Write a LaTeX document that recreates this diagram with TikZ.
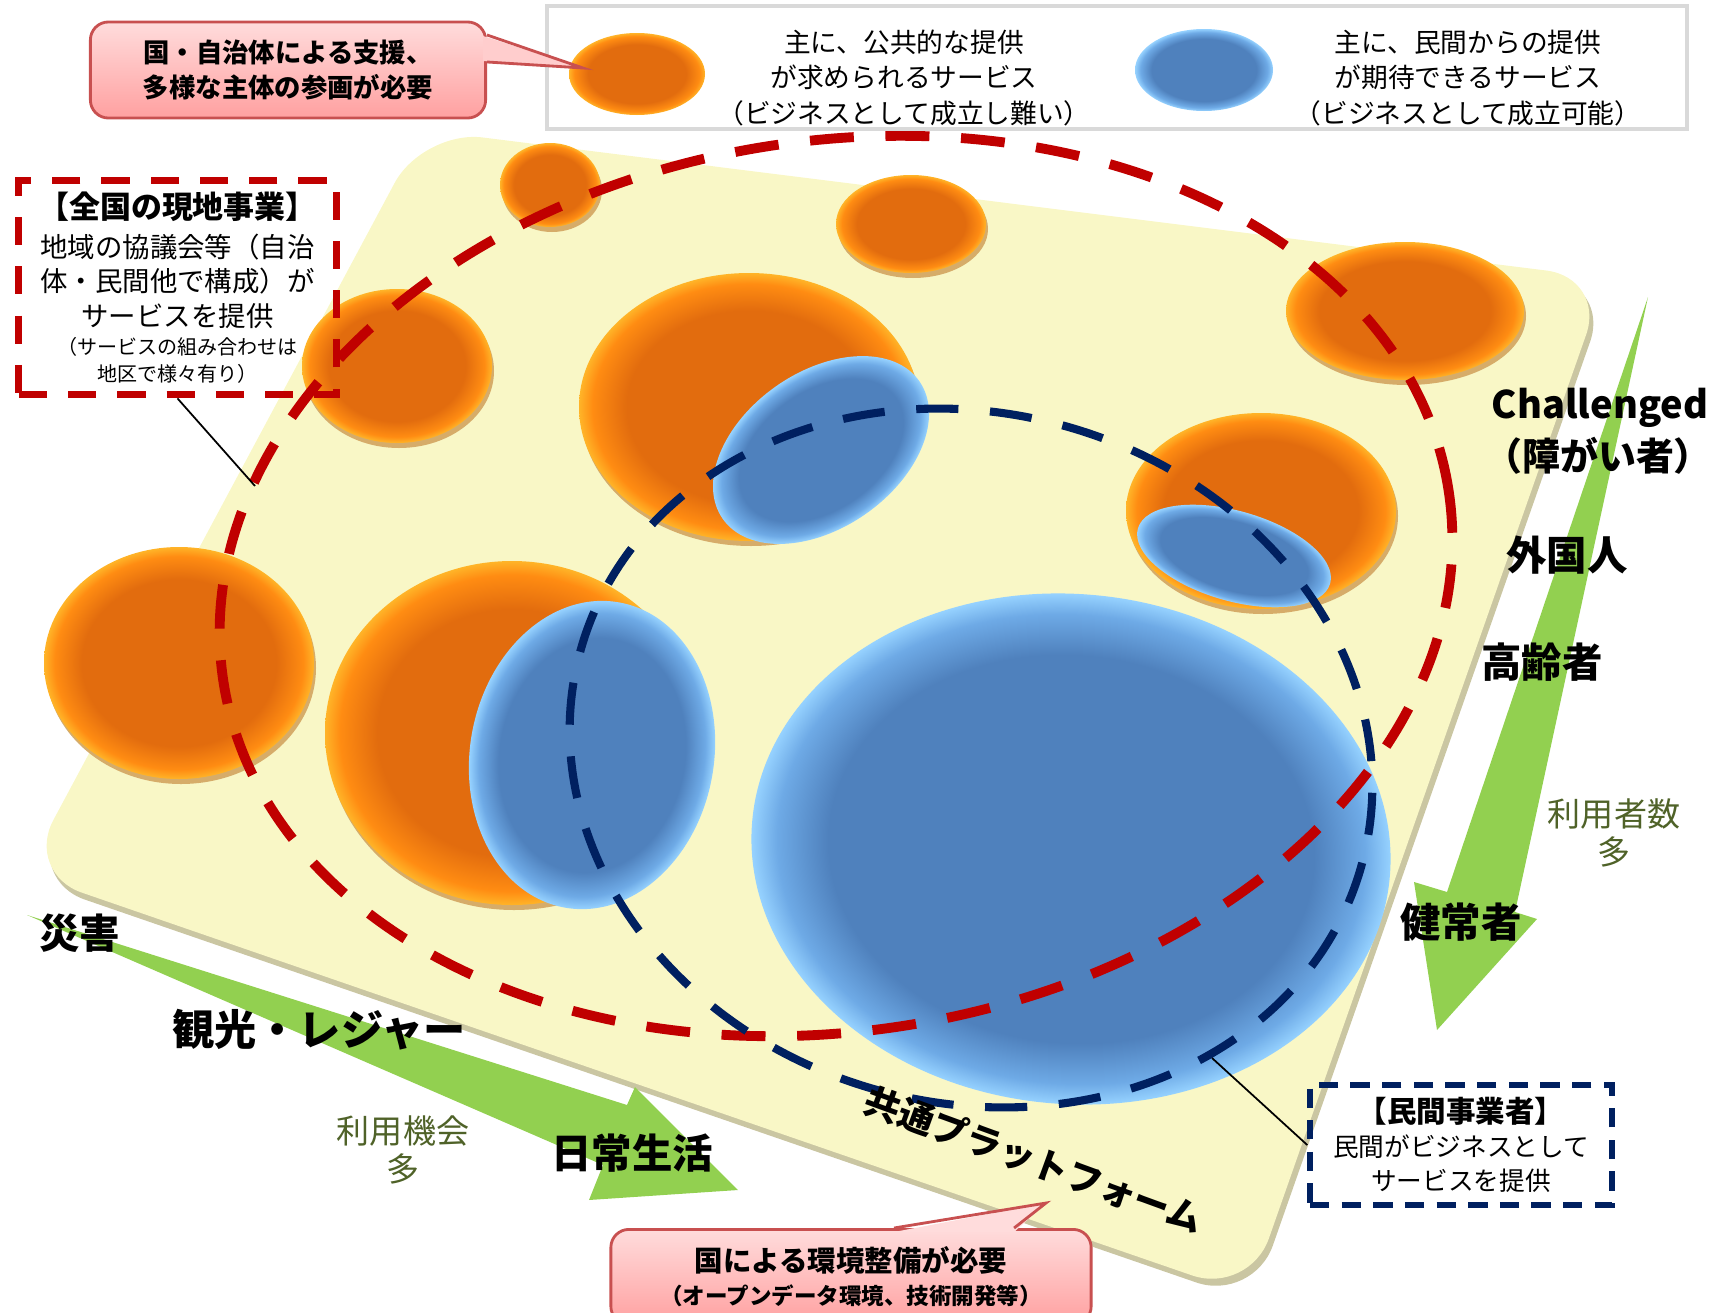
\documentclass[tikz,border=0pt]{standalone}
\usepackage{fontspec}
\setmainfont{Noto Sans CJK JP}
\usetikzlibrary{positioning}

\definecolor{orangedeep}{RGB}{226,108,14}
\definecolor{orangelight}{RGB}{255,140,18}
\definecolor{orangerim}{RGB}{255,180,40}
\definecolor{orbshadow}{RGB}{214,172,105}
\definecolor{bluedeep}{RGB}{79,129,189}
\definecolor{bluelight}{RGB}{110,170,230}
\definecolor{bluerim}{RGB}{150,210,255}
\definecolor{platefill}{RGB}{249,247,198}
\definecolor{plateshadow}{RGB}{202,198,162}
\definecolor{arrowgreen}{RGB}{146,208,80}
\definecolor{redline}{RGB}{192,0,0}
\definecolor{navyline}{RGB}{0,32,96}
\definecolor{olivetext}{RGB}{79,98,40}
\definecolor{calloutTop}{RGB}{255,220,220}
\definecolor{calloutBottom}{RGB}{255,160,160}
\definecolor{calloutEdge}{RGB}{200,80,80}
\definecolor{legendgray}{RGB}{217,217,217}

\pgfdeclareradialshading{orangeorb}{\pgfpoint{0bp}{0bp}}{%
  color(0bp)=(orangedeep); color(18bp)=(orangedeep); color(23bp)=(orangelight); color(25bp)=(orangerim); color(50bp)=(orangerim)}
\pgfdeclareradialshading{blueorb}{\pgfpoint{0bp}{0bp}}{%
  color(0bp)=(bluedeep); color(19bp)=(bluedeep); color(23bp)=(bluelight); color(25bp)=(bluerim); color(50bp)=(bluerim)}

\newcommand{\jfs}[2]{\fontsize{#1}{#2}\selectfont}

\begin{document}
\begin{tikzpicture}[x=0.01cm, y=-0.01cm,
    aidcallout/.style={draw=calloutEdge, line width=0.8pt, rounded corners=0.18cm,
        top color=calloutTop, bottom color=calloutBottom, align=center},
    areabox/.style={draw=redline, line width=2pt, dash pattern=on 8pt off 6pt,
        minimum width=3.17cm, minimum height=2.07cm, align=center, font=\jfs{7.8}{9.8}},
    privatebox/.style={draw=navyline, line width=1.5pt, dash pattern=on 5.5pt off 3.5pt,
        minimum width=3.02cm, minimum height=1.2cm, align=center, font=\jfs{7.3}{9.7}},
    legendbox/.style={draw=legendgray, line width=1.2pt, fill=white,
        minimum width=11.4cm, minimum height=1.23cm},
    legendtext/.style={align=center, font=\jfs{7.6}{10}},
    bigword/.style={font=\bfseries\jfs{11.5}{13}},
    countlabel/.style={align=center, text=olivetext, font=\jfs{9.4}{10.8}},
    reddash/.style={draw=redline, line width=2.8pt, dash pattern=on 12.5pt off 9pt},
    navydash/.style={draw=navyline, line width=2.3pt, dash pattern=on 12pt off 9pt},
    hookline/.style={draw=black, line width=0.5pt}]

    \useasboundingbox (0,0) rectangle (1715,1312);
    \clip (0,0) rectangle (1715,1312);

    % platform
    \fill[plateshadow, rounded corners=0.6cm] (427,137) -- (1610,285) -- (1253,1302) -- (28,880) -- cycle;
    \fill[platefill, rounded corners=0.6cm] (423,130) -- (1606,278) -- (1249,1295) -- (25,873) -- cycle;

    % public services
    \foreach \cx/\cy/\rx/\ry in {550/185/50/42, 911/224/75/49, 1405/311/119/69, 397/366/95/77,
        749/407/170/134, 1261/511/135/98, 179/663/135/116, 512/733/187/172} {
        \fill[orbshadow] (\cx+2,\cy+5) ellipse ({\rx} and {\ry});
        \shade[shading=orangeorb] (\cx,\cy) ellipse ({\rx} and {\ry});
    }

    % private services
    \foreach \cx/\cy/\rx/\ry/\tilt in {821/450/120/78/35, 592/755/122/155/-10,
        1234/556/100/45/-16, 1071/849/320/255/-5} {
        \begin{scope}[transform canvas={shift={(\cx,\cy)}, rotate=\tilt}]
            \shade[shading=blueorb] (0,0) ellipse ({\rx} and {\ry});
        \end{scope}
    }

    % local projects and private operators
    \draw[reddash, rotate around={9:(836,586)}] (836,586) ellipse (620 and 445);
    \draw[navydash, rotate around={-15:(971,758)}] (971,758) ellipse (405 and 345);

    % green arrows
    \fill[arrowgreen] (1648,297) -- (1515,912) -- (1537,919) -- (1437,1030) -- (1414,882) -- (1447,892) -- cycle;
    \fill[arrowgreen] (27,915) -- (627,1105) -- (635,1087) -- (738,1190) -- (589,1200) -- (603,1165) -- cycle;

    \node[rotate=-20, font=\bfseries\jfs{10.2}{12}] (platformlabel) at (1034,1160) {共通プラットフォーム};

    % users
    \node[font=\bfseries\jfs{10.8}{13}] (challenged) at (1600,408) {Challenged};
    \node[font=\bfseries\jfs{10.8}{13}, inner sep=0.5pt] (handicap) at (1598,456) {（障がい者）};
    \node[bigword] (foreigner) at (1567,555) {外国人};
    \node[bigword] (elderly) at (1542,662) {高齢者};
    \node[bigword] (ablebodied) at (1461,922) {健常者};
    \node[countlabel] (usercount) at (1614,833) {利用者数\\多};

    % occasions
    \node[bigword] (disaster) at (80,933) {災害};
    \node[font=\bfseries\jfs{12}{14}] (leisure) at (319,1030) {観光・レジャー};
    \node[bigword] (daily) at (632,1153) {日常生活};
    \node[countlabel] (usechance) at (403,1150) {利用機会\\多};

    % legend
    \node[legendbox] (legend) at (1117,67.5) {};
    \shade[shading=orangeorb] (637,74) ellipse (68 and 41);
    \shade[shading=blueorb] (1204,70) ellipse (69 and 41);
    \node[legendtext] (publictext) at (904,78) {主に、公共的な提供\\が求められるサービス\\（ビジネスとして成立し難い）};
    \node[legendtext] (privatetext) at (1468,78) {主に、民間からの提供\\が期待できるサービス\\（ビジネスとして成立可能）};

    % callouts
    \node[aidcallout, minimum width=3.95cm, minimum height=0.96cm, font=\bfseries\jfs{7.5}{9.7}] (aidbox) at (288,70)
        {国・自治体による支援、\\多様な主体の参画が必要};
    \coordinate (aidtip) at (583,68);
    \fill[calloutTop!75!calloutBottom] ([xshift=-0.04cm,yshift=0.34cm]aidbox.east) -- (aidtip)
        -- ([xshift=-0.04cm,yshift=0.09cm]aidbox.east) -- cycle;
    \draw[calloutEdge, line width=0.8pt] ([yshift=0.35cm]aidbox.east) -- (aidtip) -- ([yshift=0.08cm]aidbox.east);

    \node[aidcallout, anchor=north, minimum width=4.8cm, minimum height=0.95cm, font=\bfseries\jfs{8.1}{9.4}] (envbox) at (851,1228)
        {国による環境整備が必要\\{\jfs{6.4}{9.4}（オープンデータ環境、技術開発等）}};
    \coordinate (envtip) at (1046,1203);
    \fill[calloutTop] ([xshift=0.43cm,yshift=-0.04cm]envbox.north) -- (envtip)
        -- ([xshift=1.63cm,yshift=-0.04cm]envbox.north) -- cycle;
    \draw[calloutEdge, line width=0.8pt] ([xshift=0.43cm]envbox.north) -- (envtip) -- ([xshift=1.63cm]envbox.north);

    % boxes
    \node[areabox] (areabox) at (177.5,287.5) {{\bfseries\jfs{8.8}{9.8}【全国の現地事業】}\\[1.2pt]地域の協議会等（自治\\体・民間他で構成）が\\サービスを提供\\[-1.8pt]
        {\jfs{5.7}{7.7}（サービスの組み合わせは}\\[-2.1pt]{\jfs{5.7}{7.7}地区で様々有り）}};
    \coordinate (redhook) at (255,486);
    \draw[hookline] (areabox.south) -- (redhook);

    \node[privatebox] (bizbox) at (1461,1145) {{\bfseries\jfs{8.4}{9.7}【民間事業者】}\\民間がビジネスとして\\サービスを提供};
    \coordinate (bluehook) at (1212,1058);
    \draw[hookline] (bizbox.west) -- (bluehook);
\end{tikzpicture}
\end{document}
